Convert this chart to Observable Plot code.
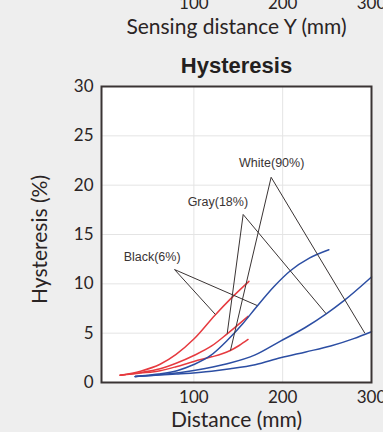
<!DOCTYPE html>
<html>
<head>
<meta charset="utf-8">
<script src="https://cdn.jsdelivr.net/npm/d3@7"></script>
<script src="https://cdn.jsdelivr.net/npm/@observablehq/plot@0.6"></script>
<style>
  html, body { margin: 0; padding: 0; background: #eeeeee; }
  svg { display: block; }
</style>
</head>
<body>
<div id="chart"></div>
<script>
// ---- data ----
const xTicks = [100, 200, 300];
const yTicks = [0, 5, 10, 15, 20, 25, 30];
const xGrid = [100, 200];
const yGrid = [5, 10, 15, 20, 25];

// red curves
const blackRedX = [17, 40, 62, 80, 100, 124, 141, 162];
const blackRedY = [0.74, 1.15, 1.85, 2.85, 4.4, 6.85, 8.45, 10.25];
const grayRedX = [17, 40, 62, 80, 100, 120, 137.5, 161];
const grayRedY = [0.74, 1.0, 1.39, 1.95, 2.74, 3.7, 4.93, 6.7];
const whiteRedX = [17, 40, 62, 80, 100, 120, 131, 141, 151, 161];
const whiteRedY = [0.74, 0.95, 1.2, 1.6, 2.13, 2.6, 2.88, 3.24, 3.75, 4.36];

// blue curves
const blackBlueX = [34, 60, 81, 100, 119, 138, 155, 170, 190, 209, 230, 252];
const blackBlueY = [0.6, 0.85, 1.2, 1.82, 2.74, 4.3, 5.95, 7.6, 9.7, 11.35, 12.6, 13.45];
const grayBlueX = [34, 70, 100, 137.5, 169, 197.5, 225, 249, 269, 300];
const grayBlueY = [0.6, 0.85, 1.22, 1.9, 2.8, 4.2, 5.55, 6.96, 8.3, 10.7];
const whiteBlueX = [34, 80, 120, 141, 169, 197.5, 226, 254, 280, 300];
const whiteBlueY = [0.6, 0.85, 1.15, 1.39, 1.8, 2.5, 3.1, 3.7, 4.45, 5.15];

// annotations
const labelText = ["Black(6%)", "Gray(18%)", "White(90%)"];
const labelX = [53, 127, 187.6];
const labelY = [12.77, 18.34, 22.27];
const apexX = [78.2, 155.5, 187];
const apexY = [11.45, 17.03, 20.8];
const redEndX = [124.3, 137.5, 141.2];
const redEndY = [6.89, 4.94, 3.24];
const blueEndX = [171.3, 249, 292.5];
const blueEndY = [7.8, 6.96, 5.0];

const titleText = "Hysteresis";
const xLabel = "Distance (mm)";
const yLabel = "Hysteresis (%)";
const prevXLabel = "Sensing distance Y (mm)";

// ---- build tables ----
const series = [
  {name: "black-red", color: "red", xs: blackRedX, ys: blackRedY},
  {name: "gray-red", color: "red", xs: grayRedX, ys: grayRedY},
  {name: "white-red", color: "red", xs: whiteRedX, ys: whiteRedY},
  {name: "black-blue", color: "blue", xs: blackBlueX, ys: blackBlueY},
  {name: "gray-blue", color: "blue", xs: grayBlueX, ys: grayBlueY},
  {name: "white-blue", color: "blue", xs: whiteBlueX, ys: whiteBlueY}
];
const rows = series.flatMap(s => s.xs.map((x, i) => ({name: s.name, color: s.color, x, y: s.ys[i]})));
const labels = labelText.map((t, i) => ({t, x: labelX[i], y: labelY[i]}));
const leaders = labelText.flatMap((t, i) => [
  {x1: apexX[i], y1: apexY[i], x2: redEndX[i], y2: redEndY[i]},
  {x1: apexX[i], y1: apexY[i], x2: blueEndX[i], y2: blueEndY[i]}
]);

const RED = "#e63a3f";
const BLUE = "#2c4ea3";
const INK = "#2a2424";
const AXISFONT = "Lato, 'Open Sans', sans-serif";
const HELV = "'Liberation Sans', Arial, sans-serif";
const centered = {textAnchor: "middle", lineAnchor: "middle"};

const chart = Plot.plot({
  width: 383,
  height: 432,
  marginLeft: 101,
  marginRight: 12,
  marginTop: 86,
  marginBottom: 50,
  style: {background: "#eeeeee", color: INK, fontFamily: AXISFONT, fontSize: "17px", overflow: "visible"},
  x: {domain: [-4, 300]},
  y: {domain: [0, 30]},
  marks: [
    Plot.frame({fill: "white", stroke: "none"}),
    Plot.gridX(xGrid, {stroke: "#e4e4e4", strokeOpacity: 1, strokeWidth: 1}),
    Plot.gridY(yGrid, {stroke: "#e4e4e4", strokeOpacity: 1, strokeWidth: 1}),
    Plot.axisY(yTicks, {tickSize: 0, tickPadding: 8, fontSize: 17, fontFamily: AXISFONT, fill: INK, label: null}),
    Plot.axisX(xTicks, {anchor: "bottom", tickSize: 0, tickPadding: 8, fontSize: 17, fontFamily: AXISFONT, fill: INK, label: null}),
    Plot.axisX(xTicks, {anchor: "top", tickSize: 0, tickPadding: 78, fontSize: 17, fontFamily: AXISFONT, fill: INK, label: null}),
    Plot.line(rows, {x: "x", y: "y", z: "name", stroke: d => d.color === "red" ? RED : BLUE, strokeWidth: 1.5, curve: "monotone-x"}),
    Plot.link(leaders, {x1: "x1", y1: "y1", x2: "x2", y2: "y2", stroke: "#3a3434", strokeWidth: 1}),
    Plot.text(labels, {x: "x", y: "y", text: "t", fontFamily: HELV, fontSize: 12.5, fill: "#3a3434", letterSpacing: -0.2}),
    Plot.frame({stroke: "#3a3434", strokeWidth: 2}),
    Plot.text([titleText], {frameAnchor: "top", dy: -21, ...centered, fontFamily: HELV, fontWeight: "bold", fontSize: 22, fill: "#231f20"}),
    Plot.text([prevXLabel], {frameAnchor: "top", dy: -59.5, ...centered, fontFamily: AXISFONT, fontSize: 21, fill: INK}),
    Plot.text([xLabel], {frameAnchor: "bottom", dy: 37.5, ...centered, fontFamily: AXISFONT, fontSize: 21, fill: INK}),
    Plot.text([yLabel], {frameAnchor: "left", dx: -61, dy: 5, rotate: -90, ...centered, fontFamily: AXISFONT, fontSize: 21, fill: INK})
  ]
});
document.getElementById("chart").appendChild(chart);
</script>
</body>
</html>
